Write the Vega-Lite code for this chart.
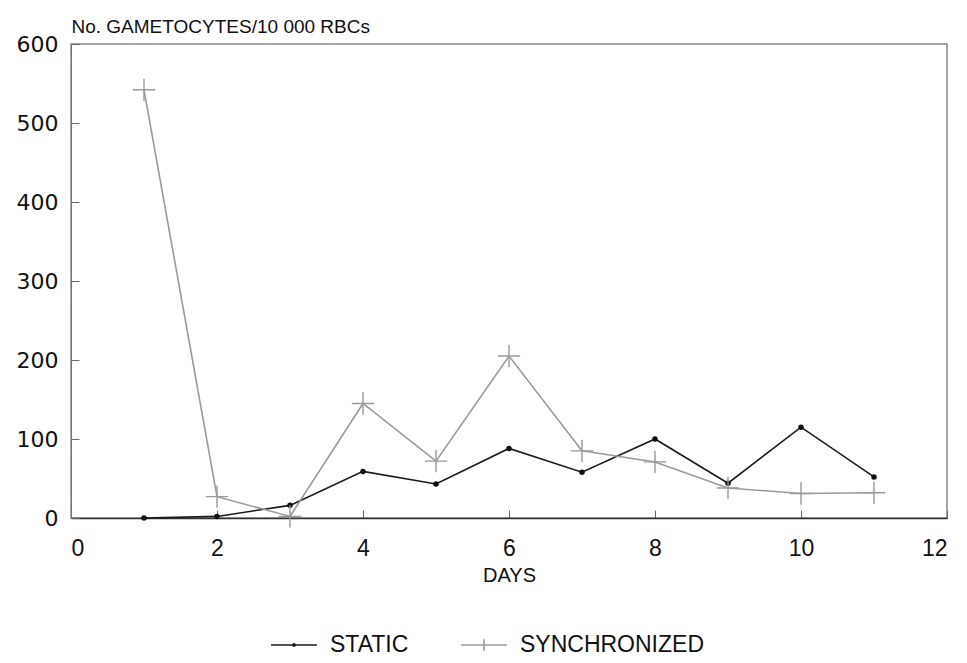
{
  "$schema": "https://vega.github.io/schema/vega-lite/v6.json",
  "autosize": "none",
  "width": 876,
  "height": 474,
  "padding": {"left": 71, "top": 44, "right": 20, "bottom": 145},
  "background": "white",
  "data": {
    "values": [
      {"day": 1, "value": 0, "series": "STATIC"},
      {"day": 2, "value": 2, "series": "STATIC"},
      {"day": 3, "value": 16, "series": "STATIC"},
      {"day": 4, "value": 59, "series": "STATIC"},
      {"day": 5, "value": 43, "series": "STATIC"},
      {"day": 6, "value": 88, "series": "STATIC"},
      {"day": 7, "value": 58, "series": "STATIC"},
      {"day": 8, "value": 100, "series": "STATIC"},
      {"day": 9, "value": 44, "series": "STATIC"},
      {"day": 10, "value": 115, "series": "STATIC"},
      {"day": 11, "value": 52, "series": "STATIC"},
      {"day": 1, "value": 542, "series": "SYNCHRONIZED"},
      {"day": 2, "value": 27, "series": "SYNCHRONIZED"},
      {"day": 3, "value": 2, "series": "SYNCHRONIZED"},
      {"day": 4, "value": 145, "series": "SYNCHRONIZED"},
      {"day": 5, "value": 72, "series": "SYNCHRONIZED"},
      {"day": 6, "value": 205, "series": "SYNCHRONIZED"},
      {"day": 7, "value": 85, "series": "SYNCHRONIZED"},
      {"day": 8, "value": 71, "series": "SYNCHRONIZED"},
      {"day": 9, "value": 38, "series": "SYNCHRONIZED"},
      {"day": 10, "value": 31, "series": "SYNCHRONIZED"},
      {"day": 11, "value": 32, "series": "SYNCHRONIZED"}
    ]
  },
  "encoding": {
    "x": {
      "field": "day", "type": "quantitative",
      "scale": {"domain": [0, 12], "nice": false, "zero": false},
      "axis": {
        "title": "DAYS", "values": [0, 2, 4, 6, 8, 10, 12],
        "grid": false, "tickSize": -8, "tickColor": "#666", "domainColor": "#333", "domainWidth": 1.5,
        "labelFont": "Liberation Sans", "labelFontSize": 23, "labelColor": "#111", "labelPadding": 27,
        "titleFont": "Liberation Sans", "titleFontSize": 20, "titleFontWeight": "normal", "titleColor": "#111", "titlePadding": 5
      }
    },
    "y": {
      "field": "value", "type": "quantitative",
      "scale": {"domain": [0, 600], "nice": false},
      "axis": {
        "title": "No. GAMETOCYTES/10 000 RBCs", "values": [0, 100, 200, 300, 400, 500, 600],
        "grid": false, "tickSize": -8, "tickColor": "#666", "domainColor": "#777",
        "labelFont": "DejaVu Sans", "labelFontSize": 22, "labelColor": "#111", "labelPadding": 21,
        "titleAngle": 0, "titleAlign": "left", "titleBaseline": "alphabetic", "titleX": 0, "titleY": -12,
        "titleFont": "Liberation Sans", "titleFontSize": 19, "titleFontWeight": "normal", "titleColor": "#111"
      }
    }
  },
  "layer": [
    {
      "mark": {"type": "line", "strokeWidth": 1.6},
      "encoding": {
        "color": {
          "field": "series", "type": "nominal",
          "scale": {"domain": ["STATIC", "SYNCHRONIZED"], "range": ["#1a1a1a", "#9a9a9a"]},
          "legend": {
            "title": null, "orient": "none", "direction": "horizontal", "legendX": 199, "legendY": 577,
            "symbolType": "M-1,0H1", "symbolSize": 2100, "symbolStrokeWidth": 1.6, "columnPadding": 48, "labelOffset": 12,
            "labelFont": "Liberation Sans", "labelFontSize": 23, "labelColor": "#111", "labelLimit": 400,
            "encode": {
              "symbols": {
                "update": {
                  "shape": {"signal": "datum.value === 'STATIC' ? 'M-1,0H1M-0.05,0A0.05,0.05 0 1,0 0.05,0A0.05,0.05 0 1,0 -0.05,0' : 'M-1,0H1M0,-0.25V0.25'"}
                }
              }
            }
          }
        }
      }
    },
    {
      "mark": {"type": "point", "filled": true, "size": 30, "color": "#111", "opacity": 1},
      "transform": [{"filter": "datum.series === 'STATIC'"}]
    },
    {
      "mark": {"type": "point", "filled": false, "strokeWidth": 1.4, "opacity": 1, "size": 500, "shape": "M-1,0H1M0,-1V1", "color": "#9a9a9a"},
      "transform": [{"filter": "datum.series === 'SYNCHRONIZED'"}]
    }
  ],
  "config": {
    "view": {"stroke": "#888", "strokeWidth": 1.5}
  }
}
